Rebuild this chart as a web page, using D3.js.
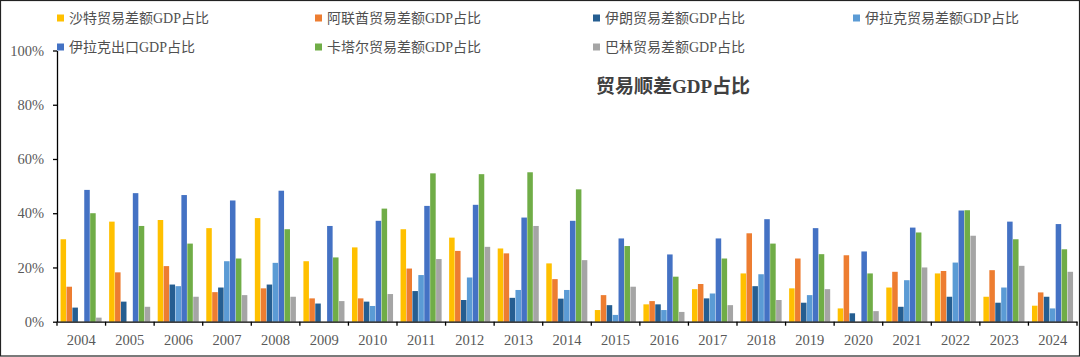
<!DOCTYPE html>
<html><head><meta charset="utf-8">
<script src="https://cdn.jsdelivr.net/npm/d3@7"></script>
<style>
html,body{margin:0;padding:0;background:#fff;}
svg{display:block;}
text{font-family:"Liberation Serif","DejaVu Serif","Noto Sans CJK SC",serif;}
</style></head><body>
<svg id="c" width="1080" height="357"></svg>
<script>
const years = ["2004","2005","2006","2007","2008","2009","2010","2011","2012","2013","2014","2015","2016","2017","2018","2019","2020","2021","2022","2023","2024"];
const seriesNames = ["沙特贸易差额GDP占比","阿联酋贸易差额GDP占比","伊朗贸易差额GDP占比","伊拉克贸易差额GDP占比","伊拉克出口GDP占比","卡塔尔贸易差额GDP占比","巴林贸易差额GDP占比"];
const seriesColors = ["#FFC000","#ED7D31","#255E91","#5B9BD5","#4472C4","#70AD47","#A5A5A5"];
const saudi   = [30.4,36.9,37.5,34.5,38.2,22.3,27.4,34.1,31.0,27.0,21.5,4.3,6.4,12.0,17.8,12.3,4.9,12.6,17.8,9.2,5.9];
const uae     = [12.9,18.2,20.5,10.9,12.3,8.6,8.6,19.6,26.1,25.2,15.7,9.8,7.6,13.9,32.6,23.3,24.5,18.4,18.7,19.0,10.8];
const iran    = [5.2,7.4,13.7,12.6,13.7,6.7,7.4,11.3,8.0,8.8,8.5,6.1,6.4,8.6,13.1,7.0,3.1,5.5,9.2,7.0,9.2];
const iraq    = [0,0,13.1,22.3,21.7,0,5.8,17.2,16.3,11.7,11.7,2.5,4.3,10.4,17.5,9.8,0,15.3,21.8,12.6,4.9];
const iraqExp = [48.6,47.4,46.7,44.7,48.3,35.3,37.2,42.7,43.1,38.4,37.2,30.7,24.8,30.7,37.8,34.5,25.9,34.7,41.0,36.9,36.0];
const qatar   = [40.0,35.3,28.8,23.3,34.1,23.7,41.7,54.7,54.4,55.1,48.8,27.9,16.6,23.3,28.8,24.9,17.8,32.9,41.1,30.4,26.7];
const bahrain = [1.5,5.5,9.2,9.8,9.2,7.6,10.2,23.1,27.6,35.3,22.7,12.9,3.6,6.1,8.0,12.0,3.9,20.0,31.7,20.6,18.4];
const yTicks = [0,20,40,60,80,100];
const title = "贸易顺差GDP占比";

const allSeries = [saudi,uae,iran,iraq,iraqExp,qatar,bahrain];
const svg = d3.select("#c");
const W = 1080, H = 357;
const m = {left:57, right:3, top:50.5, bottom:35.3};

// outer frame
svg.append("rect").attr("x",0.5).attr("y",0.5).attr("width",W-1).attr("height",H-1.5)
  .attr("fill","none").attr("stroke","#222").attr("stroke-width",1.2);

const x0 = d3.scaleBand().domain(years).range([m.left, W - m.right]).paddingInner(0).paddingOuter(0);
const x1 = d3.scaleBand().domain(d3.range(7)).range([0, x0.bandwidth()]).paddingInner(0).paddingOuter(0.6);
const y = d3.scaleLinear().domain([0,100]).range([H - m.bottom, m.top]);

// bars
const g = svg.append("g");
allSeries.forEach((vals, si) => {
  g.selectAll(null).data(vals.map((v,i)=>({v, yr:years[i]}))).enter().append("rect")
    .attr("x", d => x0(d.yr) + x1(si))
    .attr("width", x1.bandwidth() - 0.4)
    .attr("y", d => y(d.v))
    .attr("height", d => y(0) - y(d.v))
    .attr("fill", seriesColors[si]);
});

// y axis
const yAxis = d3.axisLeft(y).tickValues(yTicks).tickFormat(d => d + "%").tickSize(4).tickSizeOuter(0);
const ya = svg.append("g").attr("transform", `translate(${m.left},0)`).call(yAxis);
ya.select(".domain").attr("stroke","#000").attr("stroke-width",1.3);
ya.selectAll(".tick line").attr("stroke","#000").attr("stroke-width",1.3);
ya.selectAll(".tick text").attr("fill","#595959").attr("font-size",14.5).attr("x",-13)
  .attr("font-family",'"Liberation Serif","DejaVu Serif",serif');

// x axis
const xAxis = d3.axisBottom(x0).tickSize(0).tickSizeOuter(0);
const xa = svg.append("g").attr("transform", `translate(0,${y(0)})`).call(xAxis);
xa.select(".domain").attr("stroke","#000").attr("stroke-width",1.3);
xa.selectAll(".tick text").attr("fill","#595959").attr("font-size",14.5).attr("dy","1.4em")
  .attr("font-family",'"Liberation Serif","DejaVu Serif",serif');
// boundary tick marks
const bounds = years.map(yr => x0(yr)).concat([x0(years[years.length-1]) + x0.bandwidth()]);
xa.selectAll(".bt").data(bounds).enter().append("line")
  .attr("x1", d=>d).attr("x2", d=>d).attr("y1",0).attr("y2",4)
  .attr("stroke","#000").attr("stroke-width",1.3);

// legend
const legPos = [[57,18],[315,18],[593,18],[853,18],[57,47],[315,47],[593,47]];
const leg = svg.append("g");
seriesNames.forEach((n,i) => {
  const [lx,ly] = legPos[i];
  leg.append("rect").attr("x",lx).attr("y",ly-3.5).attr("width",7).attr("height",7).attr("fill",seriesColors[i]);
  leg.append("text").attr("x",lx+12).attr("y",ly).attr("dy","0.36em").attr("font-size",14)
    .attr("fill","#505050").text(n);
});

// title
svg.append("text").attr("x",596).attr("y",86).attr("dy","0.36em").attr("font-size",19)
  .attr("font-weight","bold").attr("fill","#404040").text(title);
</script>
</body></html>
